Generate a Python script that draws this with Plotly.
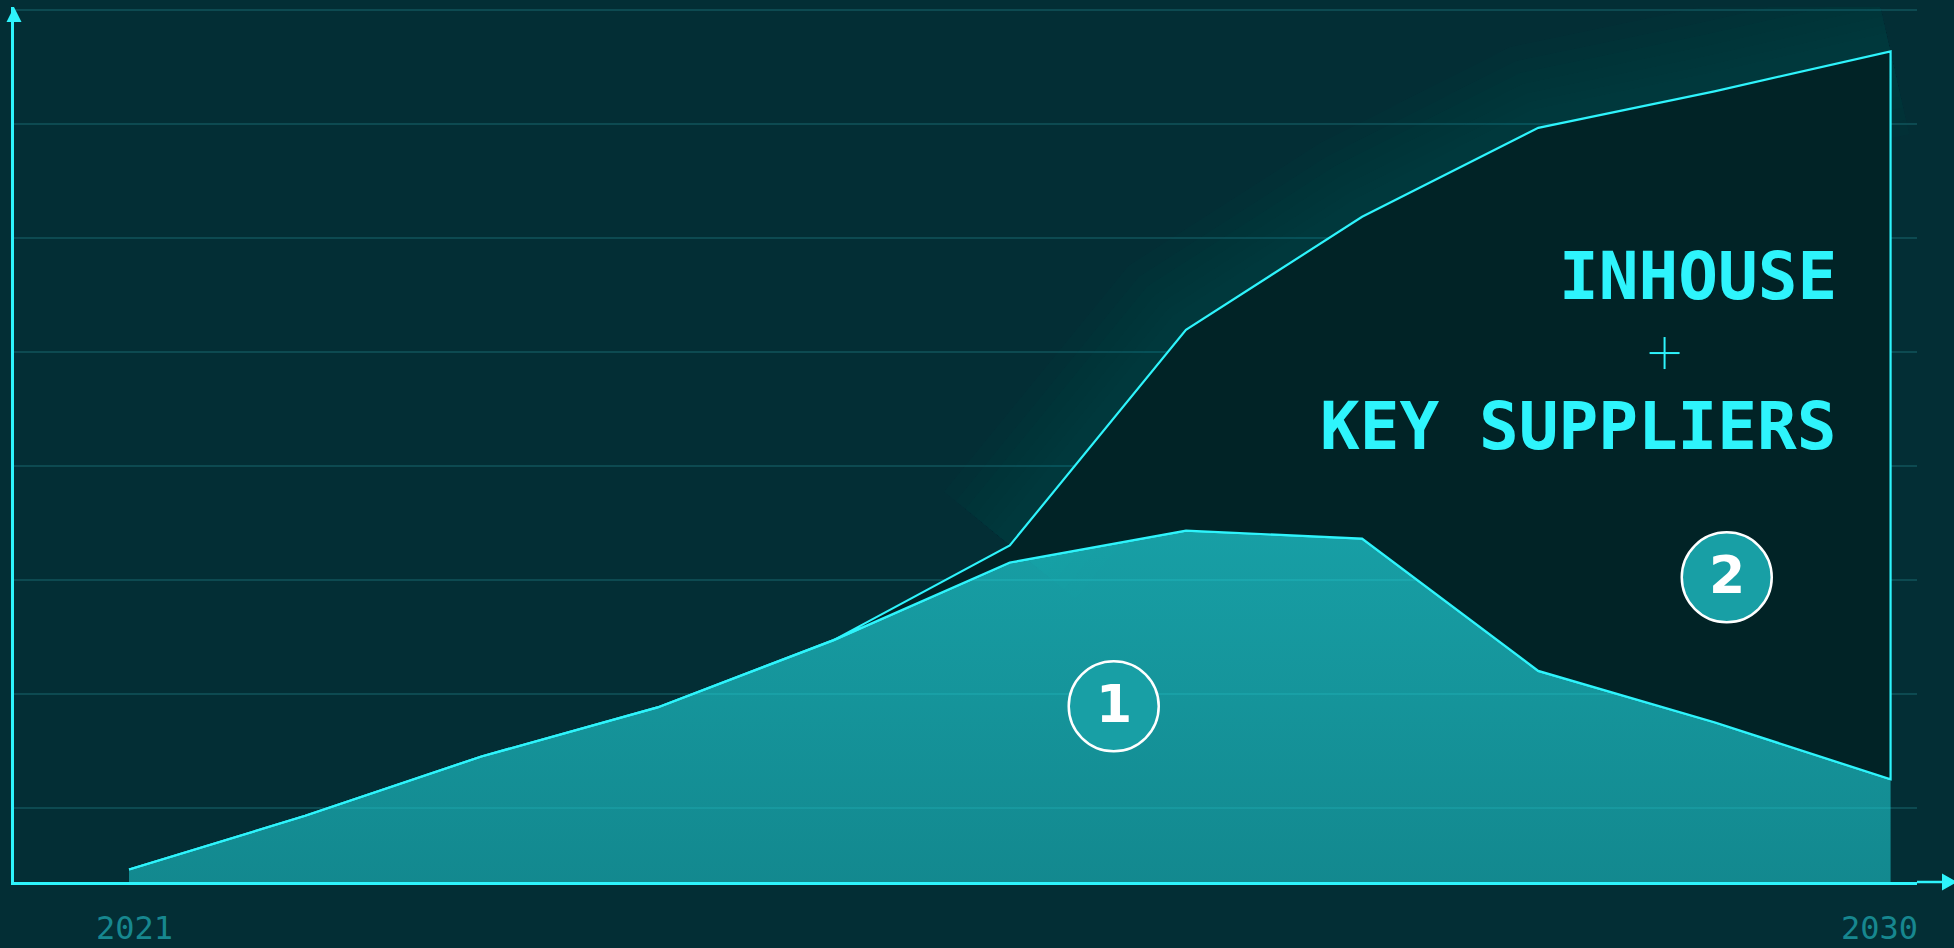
import numpy as np
import plotly.graph_objects as go

# Period index along the horizontal axis (2021 .. 2030)
x_steps = [0, 1, 2, 3, 4, 5, 6, 7, 8, 9, 10]
tick_labels = ["2021", "2030"]

# Stacked volumes: in-house production and the key-supplier share on top of it
inhouse = [1.1, 5.8, 11.0, 15.3, 21.2, 28.0, 30.8, 30.1, 18.5, 14.0, 9.0]
key_suppliers = [0.0, 0.0, 0.0, 0.0, 0.0, 1.5, 17.6, 28.2, 47.6, 55.3, 63.8]

area_labels = ["INHOUSE", "KEY SUPPLIERS"]
badge_labels = ["1", "2"]

BG = "#032e35"
GRID = "#0d4a51"
CYAN = "#2ef4fc"
DARK = "#012326"
BADGE = "#189fa5"
TICK = "#17878f"

total = np.array(inhouse) + np.array(key_suppliers)
sup = np.array(key_suppliers)
first = int(np.argmax(sup > 0))

fig = go.Figure()

# soft glow hugging the top of the supplier band
glow_widths = [170, 140, 115, 92, 72, 54, 38]
for w in glow_widths:
    fig.add_trace(go.Scatter(
        x=x_steps[first:], y=total[first:], mode="lines",
        line=dict(color="rgba(25,160,168,0.02)", width=w),
        hoverinfo="skip", showlegend=False,
    ))

# in-house area (1)
fig.add_trace(go.Scatter(
    x=x_steps, y=inhouse, mode="lines", fill="tozeroy",
    line=dict(color=CYAN, width=2.2),
    fillgradient=dict(
        type="vertical", start=0, stop=max(inhouse),
        colorscale=[[0, "rgba(29,197,203,0.6)"], [1, "rgba(37,234,240,0.6)"]],
    ),
    hoverinfo="skip", showlegend=False,
))

# in-house + key suppliers band (2), outlined all round
fig.add_trace(go.Scatter(
    x=x_steps + x_steps[::-1],
    y=list(total) + inhouse[::-1],
    mode="lines", fill="toself", fillcolor=DARK,
    line=dict(color=CYAN, width=2.2),
    hoverinfo="skip", showlegend=False,
))

x_ext = (1946 - 14) / 1903
x_tip = (1957 - 14) / 1903

shapes = [
    # x axis running past the plot area into the arrow
    dict(type="line", xref="paper", yref="paper", x0=1, x1=x_ext, y0=0, y1=0,
         line=dict(color=CYAN, width=2.5)),
    dict(type="path", xref="paper", yref="paper", xsizemode="pixel", ysizemode="pixel",
         xanchor=x_tip, yanchor=0, path="M 0,0 L -15,-8.5 L -15,8.5 Z",
         fillcolor=CYAN, line=dict(width=0)),
    # y axis arrow
    dict(type="path", xref="paper", yref="paper", xsizemode="pixel", ysizemode="pixel",
         xanchor=0, yanchor=1, path="M 0,0 L -7.5,-15 L 7.5,-15 Z",
         fillcolor=CYAN, line=dict(width=0)),
    # thin plus between the two labels
    dict(type="line", xref="x", yref="y", xsizemode="pixel", ysizemode="pixel",
         xanchor=8.717, yanchor=46.36, x0=-15, x1=15, y0=0, y1=0,
         line=dict(color=CYAN, width=2)),
    dict(type="line", xref="x", yref="y", xsizemode="pixel", ysizemode="pixel",
         xanchor=8.717, yanchor=46.36, x0=0, x1=0, y0=-16, y1=16,
         line=dict(color=CYAN, width=2)),
]

badge_pos = [(5.59, 15.4), (9.07, 26.7)]
annotations = []
for (bx, by), txt in zip(badge_pos, badge_labels):
    shapes.append(dict(type="circle", xref="x", yref="y", xsizemode="pixel", ysizemode="pixel",
                       xanchor=bx, yanchor=by, x0=-45, x1=45, y0=-45, y1=45,
                       fillcolor=BADGE, line=dict(color="white", width=2.5), layer="above"))
    annotations.append(dict(x=bx, y=by, xref="x", yref="y", text=txt, showarrow=False,
                            xanchor="center", yanchor="middle", yshift=2,
                            font=dict(family="DejaVu Sans", size=52, color="white", weight="bold")))

for txt, ly in zip(area_labels, [53.1, 39.9]):
    annotations.append(dict(x=9.676, y=ly, xref="x", yref="y", text=txt, showarrow=False,
                            xanchor="right", yanchor="middle", xshift=5,
                            font=dict(family="DejaVu Sans Mono", size=66, color=CYAN, weight="bold")))

# year labels under both ends of the axis
for xv, txt, sh in zip([x_steps[0], x_steps[-1]], tick_labels, [5, -11]):
    annotations.append(dict(x=xv, y=0, xref="x", yref="paper", text=txt, showarrow=False,
                            xanchor="center", yanchor="top", xshift=sh, yshift=-25,
                            font=dict(family="DejaVu Sans Mono", size=32, color=TICK)))

fig.update_layout(
    width=1954, height=948,
    margin=dict(l=14, r=37, t=7, b=66),
    paper_bgcolor=BG, plot_bgcolor=BG,
    showlegend=False,
    shapes=shapes, annotations=annotations,
    xaxis=dict(range=[-0.653, 10.15], showgrid=False, zeroline=False,
               showline=True, linecolor=CYAN, linewidth=2.5,
               showticklabels=False, ticks=""),
    yaxis=dict(range=[0, 76.69], tick0=6.47, dtick=10, showgrid=True,
               gridcolor=GRID, gridwidth=1.5, showticklabels=False, zeroline=False,
               showline=True, linecolor=CYAN, linewidth=2.5, ticks=""),
)

fig.write_html("out.html")
